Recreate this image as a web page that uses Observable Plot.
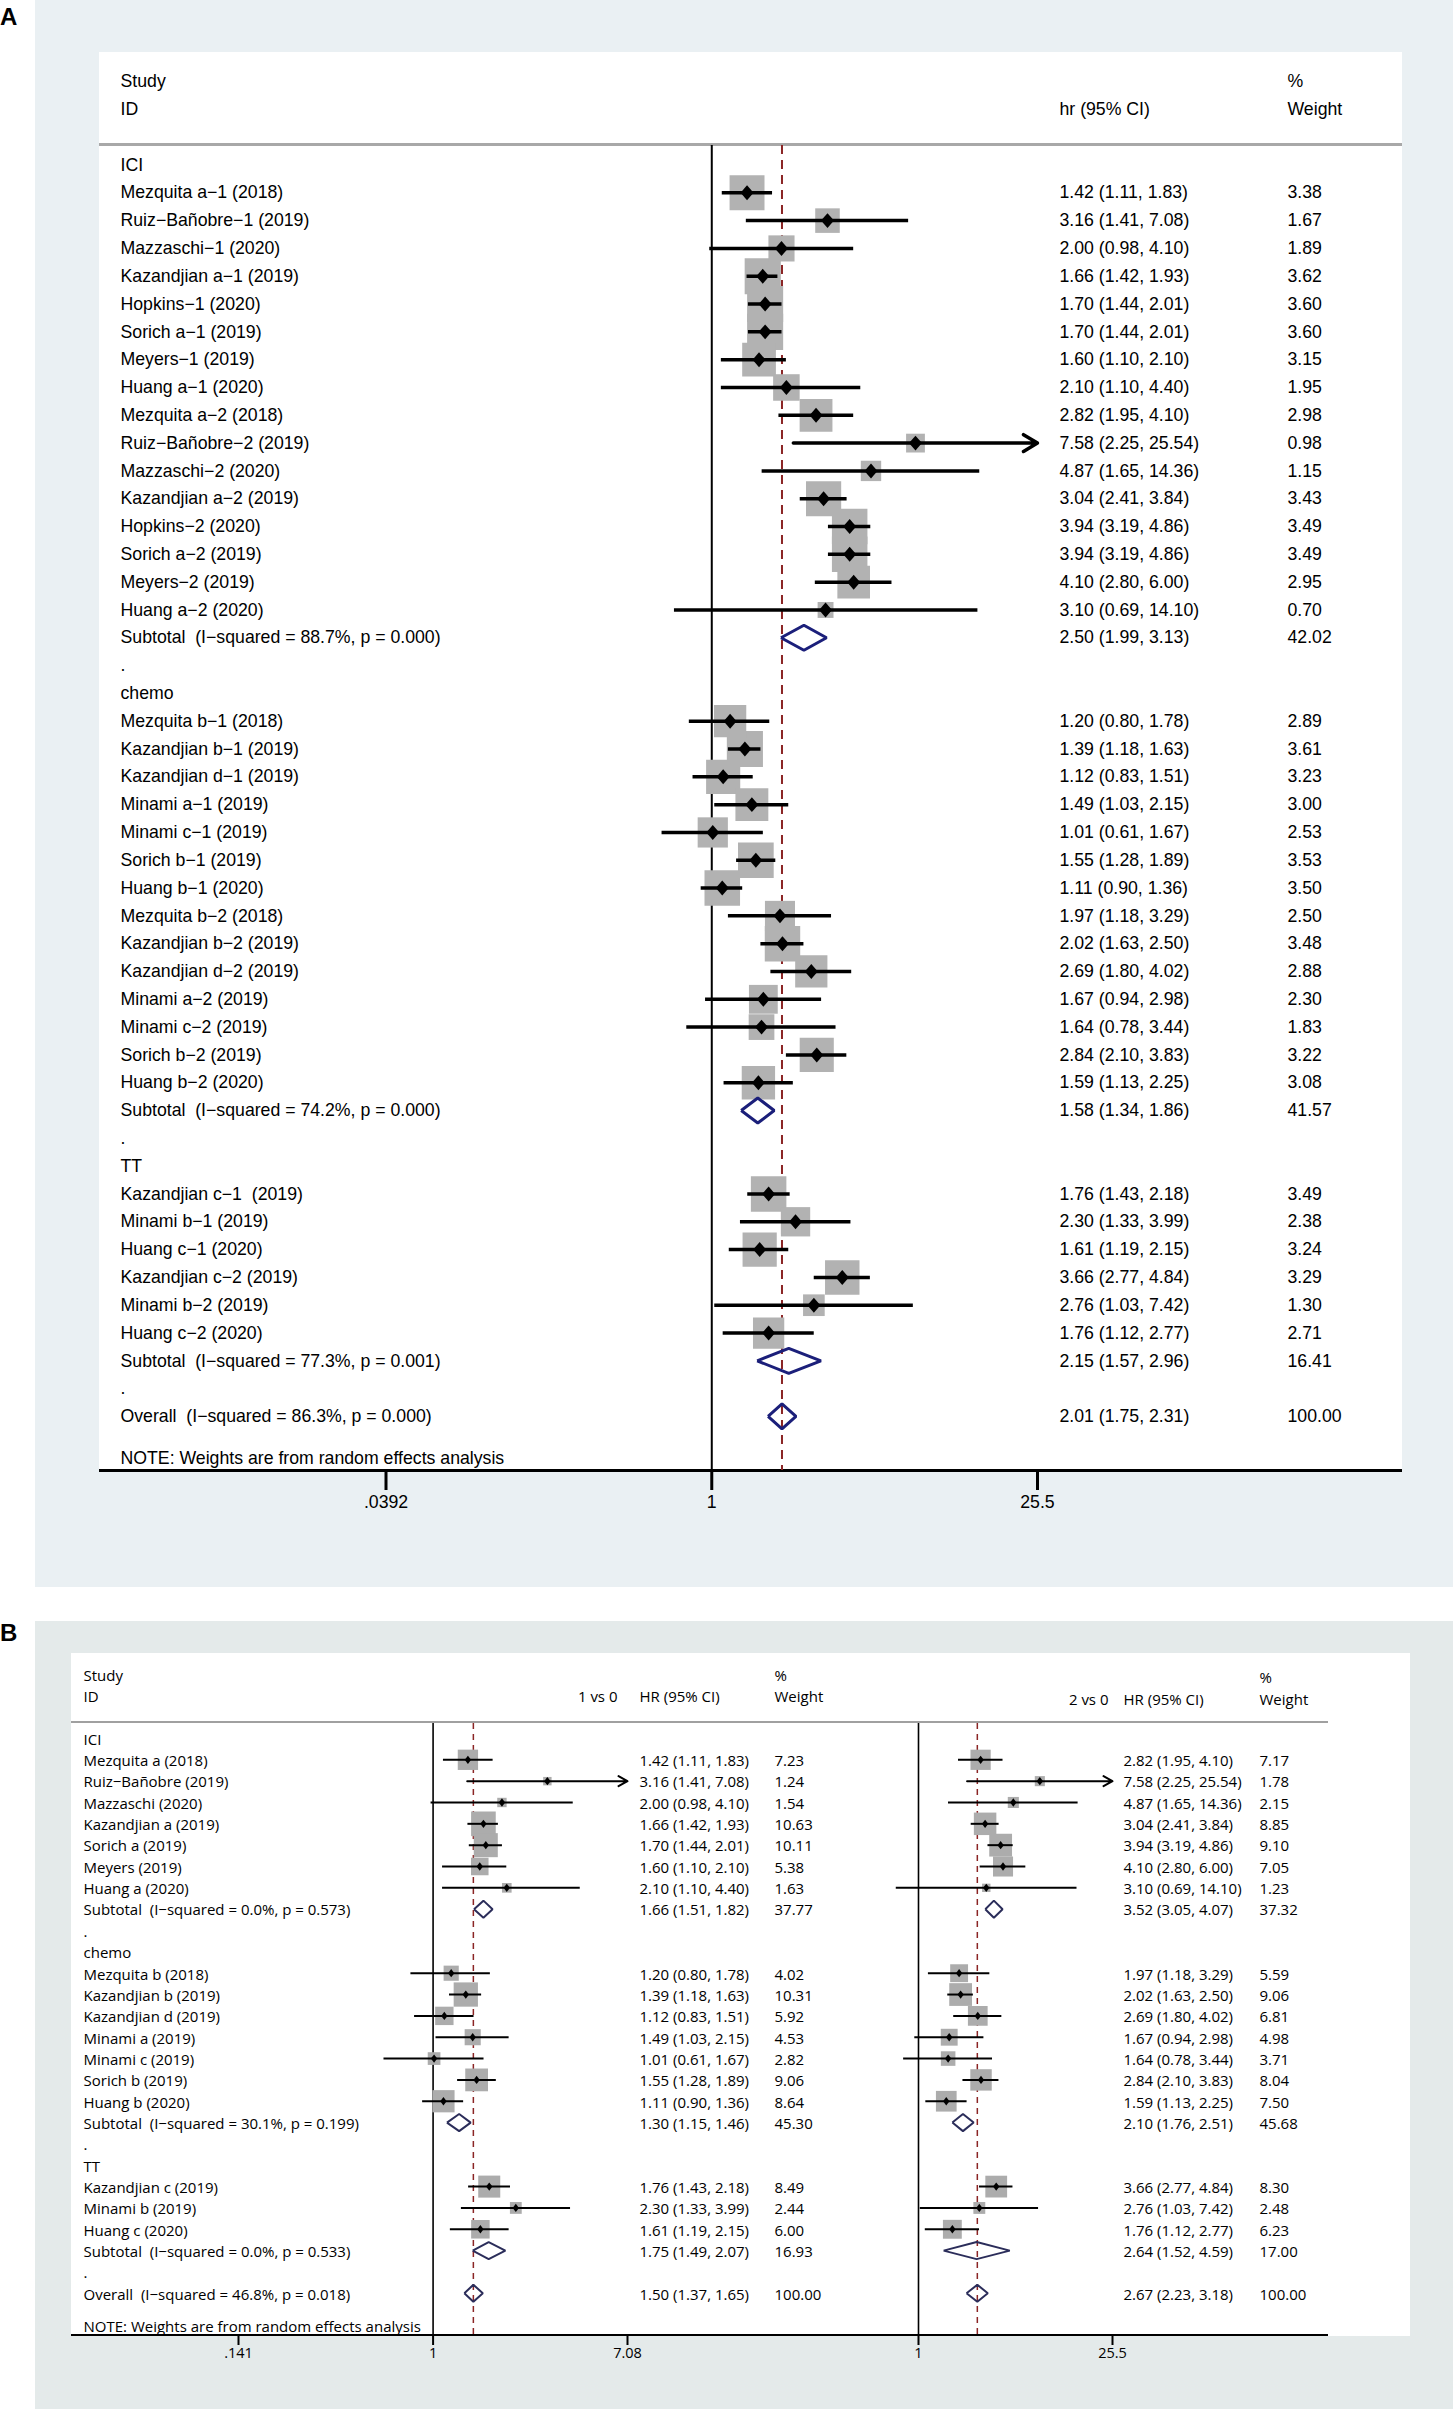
<!DOCTYPE html>
<html><head><meta charset="utf-8">
<script src="https://cdn.jsdelivr.net/npm/d3@7"></script>
<script src="https://cdn.jsdelivr.net/npm/@observablehq/plot@0.6"></script>
<style>
html,body{margin:0;padding:0;background:#fff;}
#page{position:relative;width:1453px;height:2409px;overflow:hidden;}
.abs{position:absolute;}
.lab{position:absolute;left:0;font:bold 24px "Liberation Sans",Arial,sans-serif;line-height:24px;color:#000;}
.holder svg{position:absolute;left:0;top:0;overflow:visible;}
</style></head><body>
<div id="page">
  <div class="lab" style="top:5px">A</div>
  <div class="abs" style="left:35px;top:0;width:1418px;height:1587px;background:#eaf0f3"></div>
  <div class="abs" style="left:99px;top:52px;width:1303px;height:1418px;background:#fff"></div>
  <div class="abs" style="left:99px;top:143px;width:1303px;height:3px;background:#a8a8a8"></div>
  <div class="abs" style="left:99px;top:1469px;width:1303px;height:3px;background:#000"></div>
  <div id="plotA" class="abs holder" style="left:0;top:0;width:1453px;height:1587px"></div>

  <div class="lab" style="top:1621px">B</div>
  <div class="abs" style="left:35px;top:1621px;width:1418px;height:788px;background:#e4eaea"></div>
  <div class="abs" style="left:71px;top:1653px;width:1339px;height:683px;background:#fff"></div>
  <div class="abs" style="left:71px;top:1721px;width:1257px;height:2px;background:#a0a0a0"></div>
  <div class="abs" style="left:71px;top:2334px;width:1257px;height:2px;background:#000"></div>
  <div id="plotB1" class="abs holder" style="left:0;top:1621px;width:1453px;height:788px"></div>
  <div id="plotB2" class="abs holder" style="left:0;top:1621px;width:1453px;height:788px"></div>

  <div id="axisA" class="abs holder" style="left:0;top:1470px;width:1453px;height:60px"></div>
  <div id="axisB1" class="abs holder" style="left:0;top:2335px;width:1453px;height:40px"></div>
  <div id="axisB2" class="abs holder" style="left:0;top:2335px;width:1453px;height:40px"></div>
</div>
<script>
// ---------------- Panel A data: [hr, lo, hi, weight] ----------------
const A_groups = ["ICI", "chemo", "TT"];
const A_ICI_names = ["Mezquita a−1 (2018)","Ruiz−Bañobre−1 (2019)","Mazzaschi−1 (2020)","Kazandjian a−1 (2019)","Hopkins−1 (2020)","Sorich a−1 (2019)","Meyers−1 (2019)","Huang a−1 (2020)","Mezquita a−2 (2018)","Ruiz−Bañobre−2 (2019)","Mazzaschi−2 (2020)","Kazandjian a−2 (2019)","Hopkins−2 (2020)","Sorich a−2 (2019)","Meyers−2 (2019)","Huang a−2 (2020)"];
const A_ICI_est = [[1.42,1.11,1.83,3.38],[3.16,1.41,7.08,1.67],[2.00,0.98,4.10,1.89],[1.66,1.42,1.93,3.62],[1.70,1.44,2.01,3.60],[1.70,1.44,2.01,3.60],[1.60,1.10,2.10,3.15],[2.10,1.10,4.40,1.95],[2.82,1.95,4.10,2.98],[7.58,2.25,25.54,0.98],[4.87,1.65,14.36,1.15],[3.04,2.41,3.84,3.43],[3.94,3.19,4.86,3.49],[3.94,3.19,4.86,3.49],[4.10,2.80,6.00,2.95],[3.10,0.69,14.10,0.70]];
const A_chemo_names = ["Mezquita b−1 (2018)","Kazandjian b−1 (2019)","Kazandjian d−1 (2019)","Minami a−1 (2019)","Minami c−1 (2019)","Sorich b−1 (2019)","Huang b−1 (2020)","Mezquita b−2 (2018)","Kazandjian b−2 (2019)","Kazandjian d−2 (2019)","Minami a−2 (2019)","Minami c−2 (2019)","Sorich b−2 (2019)","Huang b−2 (2020)"];
const A_chemo_est = [[1.20,0.80,1.78,2.89],[1.39,1.18,1.63,3.61],[1.12,0.83,1.51,3.23],[1.49,1.03,2.15,3.00],[1.01,0.61,1.67,2.53],[1.55,1.28,1.89,3.53],[1.11,0.90,1.36,3.50],[1.97,1.18,3.29,2.50],[2.02,1.63,2.50,3.48],[2.69,1.80,4.02,2.88],[1.67,0.94,2.98,2.30],[1.64,0.78,3.44,1.83],[2.84,2.10,3.83,3.22],[1.59,1.13,2.25,3.08]];
const A_TT_names = ["Kazandjian c−1  (2019)","Minami b−1 (2019)","Huang c−1 (2020)","Kazandjian c−2 (2019)","Minami b−2 (2019)","Huang c−2 (2020)"];
const A_TT_est = [[1.76,1.43,2.18,3.49],[2.30,1.33,3.99,2.38],[1.61,1.19,2.15,3.24],[3.66,2.77,4.84,3.29],[2.76,1.03,7.42,1.30],[1.76,1.12,2.77,2.71]];
const A_sub_labels = ["Subtotal  (I−squared = 88.7%, p = 0.000)","Subtotal  (I−squared = 74.2%, p = 0.000)","Subtotal  (I−squared = 77.3%, p = 0.001)"];
const A_sub_est = [[2.50,1.99,3.13,42.02],[1.58,1.34,1.86,41.57],[2.15,1.57,2.96,16.41]];
const A_overall_label = "Overall  (I−squared = 86.3%, p = 0.000)";
const A_overall_est = [2.01,1.75,2.31,100.00];
const A_ticks = [0.0392, 1, 25.5];
const A_tick_labels = [".0392", "1", "25.5"];
const A_header_top = ["Study", "%"];
const A_header_bottom = ["ID", "hr (95% CI)", "Weight"];

// ---------------- Panel B data ----------------
const B_groups = ["ICI", "chemo", "TT"];
const B_ICI_names = ["Mezquita a (2018)","Ruiz−Bañobre (2019)","Mazzaschi (2020)","Kazandjian a (2019)","Sorich a (2019)","Meyers (2019)","Huang a (2020)"];
const B_ICI_1v0 = [[1.42,1.11,1.83,7.23],[3.16,1.41,7.08,1.24],[2.00,0.98,4.10,1.54],[1.66,1.42,1.93,10.63],[1.70,1.44,2.01,10.11],[1.60,1.10,2.10,5.38],[2.10,1.10,4.40,1.63]];
const B_ICI_2v0 = [[2.82,1.95,4.10,7.17],[7.58,2.25,25.54,1.78],[4.87,1.65,14.36,2.15],[3.04,2.41,3.84,8.85],[3.94,3.19,4.86,9.10],[4.10,2.80,6.00,7.05],[3.10,0.69,14.10,1.23]];
const B_chemo_names = ["Mezquita b (2018)","Kazandjian b (2019)","Kazandjian d (2019)","Minami a (2019)","Minami c (2019)","Sorich b (2019)","Huang b (2020)"];
const B_chemo_1v0 = [[1.20,0.80,1.78,4.02],[1.39,1.18,1.63,10.31],[1.12,0.83,1.51,5.92],[1.49,1.03,2.15,4.53],[1.01,0.61,1.67,2.82],[1.55,1.28,1.89,9.06],[1.11,0.90,1.36,8.64]];
const B_chemo_2v0 = [[1.97,1.18,3.29,5.59],[2.02,1.63,2.50,9.06],[2.69,1.80,4.02,6.81],[1.67,0.94,2.98,4.98],[1.64,0.78,3.44,3.71],[2.84,2.10,3.83,8.04],[1.59,1.13,2.25,7.50]];
const B_TT_names = ["Kazandjian c (2019)","Minami b (2019)","Huang c (2020)"];
const B_TT_1v0 = [[1.76,1.43,2.18,8.49],[2.30,1.33,3.99,2.44],[1.61,1.19,2.15,6.00]];
const B_TT_2v0 = [[3.66,2.77,4.84,8.30],[2.76,1.03,7.42,2.48],[1.76,1.12,2.77,6.23]];
const B_sub_labels = ["Subtotal  (I−squared = 0.0%, p = 0.573)","Subtotal  (I−squared = 30.1%, p = 0.199)","Subtotal  (I−squared = 0.0%, p = 0.533)"];
const B_sub_1v0 = [[1.66,1.51,1.82,37.77],[1.30,1.15,1.46,45.30],[1.75,1.49,2.07,16.93]];
const B_sub_2v0 = [[3.52,3.05,4.07,37.32],[2.10,1.76,2.51,45.68],[2.64,1.52,4.59,17.00]];
const B_overall_label = "Overall  (I−squared = 46.8%, p = 0.018)";
const B_overall_1v0 = [1.50,1.37,1.65,100.00];
const B_overall_2v0 = [2.67,2.23,3.18,100.00];
const B_ticks_1v0 = [0.141, 1, 7.08];
const B_tick_labels_1v0 = [".141", "1", "7.08"];
const B_ticks_2v0 = [1, 25.5];
const B_tick_labels_2v0 = ["1", "25.5"];
const NOTE = "NOTE: Weights are from random effects analysis";

// ---------------- helpers ----------------
const fmt = v => v.toFixed(2);
const ciText = d => `${fmt(d.hr)} (${fmt(d.lo)}, ${fmt(d.hi)})`;
function buildRows(groups, names, ests, subLabels, subEsts, overallLabel, overallEst) {
  const rows = []; let r = 0;
  groups.forEach((g, gi) => {
    rows.push({kind: "group", row: r++, label: g});
    names[gi].forEach((n, i) => {
      const [hr, lo, hi, wt] = ests[gi][i];
      rows.push({kind: "study", row: r++, label: n, hr, lo, hi, wt});
    });
    const [hr, lo, hi, wt] = subEsts[gi];
    rows.push({kind: "summary", row: r++, label: subLabels[gi], hr, lo, hi, wt});
    rows.push({kind: "spacer", row: r++, label: "."});
  });
  const [hr, lo, hi, wt] = overallEst;
  rows.push({kind: "summary", row: r++, label: overallLabel, hr, lo, hi, wt, overall: true});
  return rows;
}
function diamondPts(rows, h) {
  return rows.filter(d => d.kind === "summary").flatMap((d, k) => [
    {id: k, x: d.lo, y: d.row}, {id: k, x: d.hr, y: d.row - h},
    {id: k, x: d.hi, y: d.row}, {id: k, x: d.hr, y: d.row + h},
    {id: k, x: d.lo, y: d.row}]);
}
const squareSym = {draw(ctx, size) { const r = Math.sqrt(size / Math.PI); ctx.rect(-r, -r, 2 * r, 2 * r); }};
const ptDiamond = ratio => ({draw(ctx, size) { const r = Math.sqrt(size / Math.PI);
  ctx.moveTo(0, -r * ratio); ctx.lineTo(r, 0); ctx.lineTo(0, r * ratio); ctx.lineTo(-r, 0); ctx.closePath(); }});

function forestMarks(rows, o) {
  const studies = rows.filter(d => d.kind === "study");
  const xMax = o.xMax;
  const overall = rows.find(d => d.overall);
  return [
    Plot.ruleX([1], {stroke: "#000", strokeWidth: o.axisW}),
    Plot.ruleX([overall.hr], {stroke: "#8b2525", strokeWidth: o.dashW, strokeDasharray: o.dash}),
    Plot.dot(studies, {x: "hr", y: "row", r: d => o.boxK * Math.sqrt(d.wt), symbol: squareSym, fill: o.boxFill, stroke: null}),
    Plot.ruleY(studies.filter(d => d.hi < xMax), {y: "row", x1: "lo", x2: "hi", stroke: "#000", strokeWidth: o.ciW}),
    Plot.arrow(studies.filter(d => d.hi >= xMax), {x1: "lo", x2: () => xMax, y1: "row", y2: "row", stroke: "#000", strokeWidth: o.ciW, headLength: o.headLen, headAngle: o.headAngle}),
    Plot.dot(studies, {x: "hr", y: "row", r: o.ptR, symbol: ptDiamond(o.ptRatio), fill: "#000", stroke: null}),
    Plot.line(diamondPts(rows, o.diaH), {x: "x", y: "y", z: "id", stroke: o.diaColor, strokeWidth: o.diaW, strokeLinejoin: "miter", strokeLinecap: "butt"})
  ];
}
// A separate thin Plot for each x axis: its frame is exactly the tick length, so ruleX draws the ticks
function axisPlot(ticks, labels, o) {
  const rows = ticks.map((v, i) => ({v, label: labels[i]}));
  return Plot.plot({
    width: 1453, height: o.tickLen + o.below, marginTop: 0, marginBottom: o.below, marginLeft: 0, marginRight: 0,
    x: {type: "log", domain: o.domain, range: o.range, axis: null},
    style: {fontFamily: o.fontFamily, fontSize: o.fontSize + "px", background: "transparent", overflow: "visible", color: "#000"},
    marks: [
      Plot.ruleX(rows, {x: "v", stroke: "#000", strokeWidth: o.tickW}),
      Plot.text(rows, {x: "v", text: "label", frameAnchor: "bottom", dy: o.labelDy, fontSize: o.fontSize, fill: "#000", textAnchor: "middle"})
    ]
  });
}

// ---------------- Panel A ----------------
const rowsA = buildRows(A_groups, [A_ICI_names, A_chemo_names, A_TT_names], [A_ICI_est, A_chemo_est, A_TT_est], A_sub_labels, A_sub_est, A_overall_label, A_overall_est);
const lastA = rowsA[rowsA.length - 1].row;
const rowA0 = 164.5, stepA = 27.81;
const fontA = 17.7;
const fontFamA = '"Liberation Sans", Arial, Helvetica, sans-serif';
const txtA = {fill: "#000", fontSize: fontA, frameAnchor: "left", textAnchor: "start"};
const valsA = rowsA.filter(d => d.kind === "study" || d.kind === "summary");
const HA = 1587, mtA = 145, mbA = 117;
const domainA = [A_ticks[0], A_ticks[A_ticks.length - 1]], rangeA = [385.5, 1037];
const plotA = Plot.plot({
  width: 1453, height: HA, marginTop: mtA, marginBottom: mbA, marginLeft: 0, marginRight: 0,
  x: {type: "log", domain: domainA, range: rangeA, axis: null},
  y: {domain: [0, lastA], range: [rowA0, rowA0 + lastA * stepA], axis: null},
  r: {type: "identity"},
  style: {fontFamily: fontFamA, fontSize: fontA + "px", background: "transparent", overflow: "visible", color: "#000"},
  marks: [
    ...forestMarks(rowsA, {xMax: domainA[1], axisW: 2, dashW: 2, dash: "9,6", boxK: 9.5, boxFill: "#b2b2b2", ciW: 3.5, headLen: 7, headAngle: 62, ptR: 6.5, ptRatio: 1.15, diaH: 0.45, diaColor: "#1b1f7a", diaW: 3}),
    Plot.text(rowsA, {...txtA, y: "row", text: "label", dx: 120}),
    Plot.text(valsA, {...txtA, y: "row", text: ciText, dx: 1059}),
    Plot.text(valsA, {...txtA, y: "row", text: d => fmt(d.wt), dx: 1287}),
    Plot.text([NOTE], {...txtA, y: () => lastA + 1.5, text: d => d, dx: 120}),
    Plot.text([A_header_top[0]], {...txtA, y: () => -3, text: d => d, dx: 120}),
    Plot.text([A_header_top[1]], {...txtA, y: () => -3, text: d => d, dx: 1287}),
    Plot.text([A_header_bottom[0]], {...txtA, y: () => -2, text: d => d, dx: 120}),
    Plot.text([A_header_bottom[1]], {...txtA, y: () => -2, text: d => d, dx: 1059}),
    Plot.text([A_header_bottom[2]], {...txtA, y: () => -2, text: d => d, dx: 1287})
  ]
});
document.getElementById("plotA").appendChild(plotA);
document.getElementById("axisA").appendChild(axisPlot(A_ticks, A_tick_labels,
  {domain: domainA, range: rangeA, tickLen: 20, below: 40, tickW: 3, labelDy: 17, fontSize: fontA, fontFamily: fontFamA}));

// ---------------- Panel B ----------------
const bNames = [B_ICI_names, B_chemo_names, B_TT_names];
const rowsB1 = buildRows(B_groups, bNames, [B_ICI_1v0, B_chemo_1v0, B_TT_1v0], B_sub_labels, B_sub_1v0, B_overall_label, B_overall_1v0);
const rowsB2 = buildRows(B_groups, bNames, [B_ICI_2v0, B_chemo_2v0, B_TT_2v0], B_sub_labels, B_sub_2v0, B_overall_label, B_overall_2v0);
const lastB = rowsB1[rowsB1.length - 1].row;
const rowB0 = 116.96, stepB = 21.34;
const fontB = 15;
const fontFamB = '"Open Sans", "Noto Sans", sans-serif';
const HB = 788, mtB = 102, mbB = 74;
const txtB = {fill: "#000", fontSize: fontB, frameAnchor: "left", textAnchor: "start", dy: 1.5};
const styleB = {fontFamily: fontFamB, fontSize: fontB + "px", fontStretch: "92%", background: "transparent", overflow: "visible", color: "#000"};
const optB = {axisW: 1.6, dashW: 1.5, dash: "6,5", boxK: 3.78, boxFill: "#acacac", ciW: 2, headLen: 7.7, headAngle: 58, ptR: 3.2, ptRatio: 1.3, diaH: 0.4, diaColor: "#2b2d5a", diaW: 2};
const commonB = {width: 1453, height: HB, marginTop: mtB, marginBottom: mbB, marginLeft: 0, marginRight: 0,
  y: {domain: [0, lastB], range: [rowB0, rowB0 + lastB * stepB], axis: null}, r: {type: "identity"}, style: styleB};
const domainB1 = [B_ticks_1v0[0], B_ticks_1v0[2]], rangeB1 = [238, 627];
const domainB2 = [1 / B_ticks_2v0[1], B_ticks_2v0[1]], rangeB2 = [724, 1112];

const valsB1 = rowsB1.filter(d => d.kind === "study" || d.kind === "summary");
const plotB1 = Plot.plot({
  ...commonB,
  x: {type: "log", domain: domainB1, range: rangeB1, axis: null},
  marks: [
    ...forestMarks(rowsB1, {...optB, xMax: domainB1[1]}),
    Plot.text(rowsB1, {...txtB, y: "row", text: "label", dx: 83}),
    Plot.text(valsB1, {...txtB, y: "row", text: ciText, dx: 639}),
    Plot.text(valsB1, {...txtB, y: "row", text: d => fmt(d.wt), dx: 774}),
    Plot.text([NOTE], {...txtB, y: () => lastB + 1.5, text: d => d, dx: 83}),
    Plot.text(["Study"], {...txtB, y: () => -3, text: d => d, dx: 83}),
    Plot.text(["ID"], {...txtB, y: () => -2, text: d => d, dx: 83}),
    Plot.text(["1 vs 0"], {...txtB, y: () => -2, text: d => d, dx: 617, textAnchor: "end"}),
    Plot.text(["HR (95% CI)"], {...txtB, y: () => -2, text: d => d, dx: 639}),
    Plot.text(["%"], {...txtB, y: () => -3, text: d => d, dx: 774}),
    Plot.text(["Weight"], {...txtB, y: () => -2, text: d => d, dx: 774})
  ]
});
document.getElementById("plotB1").appendChild(plotB1);

const valsB2 = rowsB2.filter(d => d.kind === "study" || d.kind === "summary");
const plotB2 = Plot.plot({
  ...commonB,
  x: {type: "log", domain: domainB2, range: rangeB2, axis: null},
  marks: [
    ...forestMarks(rowsB2, {...optB, xMax: domainB2[1]}),
    Plot.text(valsB2, {...txtB, y: "row", text: ciText, dx: 1123}),
    Plot.text(valsB2, {...txtB, y: "row", text: d => fmt(d.wt), dx: 1259}),
    Plot.text(["2 vs 0"], {...txtB, y: () => -2, text: d => d, dx: 1108, dy: 4, textAnchor: "end"}),
    Plot.text(["HR (95% CI)"], {...txtB, y: () => -2, text: d => d, dx: 1123, dy: 4}),
    Plot.text(["%"], {...txtB, y: () => -3, text: d => d, dx: 1259, dy: 4}),
    Plot.text(["Weight"], {...txtB, y: () => -2, text: d => d, dx: 1259, dy: 4})
  ]
});
document.getElementById("plotB2").appendChild(plotB2);

const axOptB = {tickLen: 10, below: 30, tickW: 2, labelDy: 12.7, fontSize: 14.5, fontFamily: fontFamB};
document.getElementById("axisB1").appendChild(axisPlot(B_ticks_1v0, B_tick_labels_1v0, {...axOptB, domain: domainB1, range: rangeB1}));
document.getElementById("axisB2").appendChild(axisPlot(B_ticks_2v0, B_tick_labels_2v0, {...axOptB, domain: domainB2, range: rangeB2}));
</script>
</body></html>
